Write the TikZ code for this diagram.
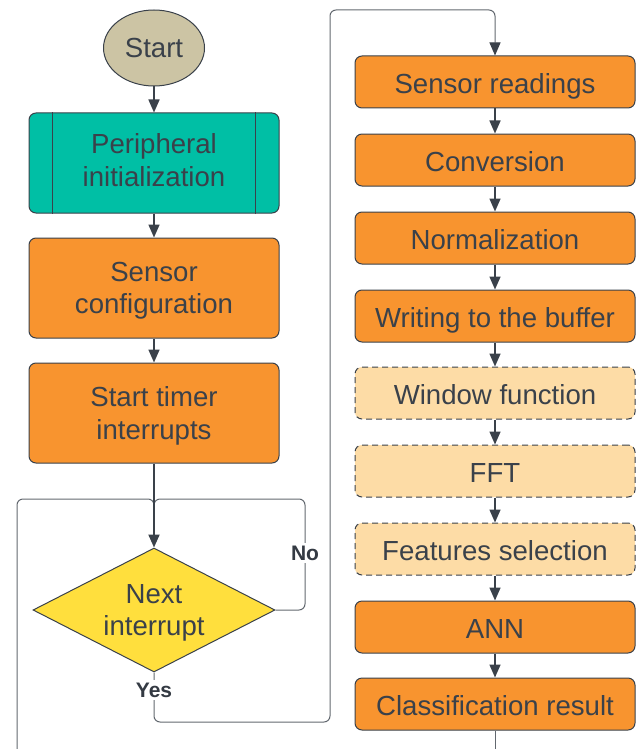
\documentclass[tikz,border=0pt]{standalone}
\usepackage{fontspec}
\setmainfont{Liberation Sans}
\usetikzlibrary{calc,arrows.meta,shapes.geometric}

\definecolor{ink}{HTML}{3A414A}
\definecolor{wire}{HTML}{62686F}
\definecolor{sand}{HTML}{CCC4A4}
\definecolor{teal}{HTML}{00BFA5}
\definecolor{tangerine}{HTML}{F8942F}
\definecolor{peach}{HTML}{FDDCA6}
\definecolor{lemon}{HTML}{FFDF3D}

\begin{document}
\begin{tikzpicture}[x=0.5pt, y=-0.5pt,
        every node/.style={text=ink, font=\fontsize{13.8}{16.2}\selectfont},
        box/.style={draw=ink, line width=0.5pt, rounded corners=3.5pt, align=center},
        leftbox/.style={box, minimum width=125pt, minimum height=50pt, text depth=0pt},
        rightbox/.style={box, fill=tangerine, minimum width=140pt, minimum height=26pt, inner sep=0pt,
            text height=11.1pt, text depth=0pt},
        optbox/.style={rightbox, fill=peach, dash pattern=on 3pt off 2pt},
        tip/.style={-{Triangle[length=6.5pt, width=5.5pt, color=ink]}},
        flow/.style={draw=ink, line width=0.8pt, tip},
        loopline/.style={draw=wire, line width=0.5pt, rounded corners=3pt},
        answer/.style={font=\bfseries\fontsize{10.5}{12}\selectfont, text=ink!90!black, fill=white, inner sep=1.5pt}]

        \useasboundingbox (0, 0) rectangle (637, 749);

        \coordinate (merge) at (154, 499);
        \coordinate (noturn) at (305, 499);
        \coordinate (yesturn) at (330, 722);
        \coordinate (topturn) at (330, 10);
        \coordinate (inbottom) at (17, 749);
        \coordinate (outbottom) at (495, 749);

        % left column
        \node[ellipse, draw=ink, line width=0.5pt, fill=sand, minimum width=50.5pt, minimum height=38pt, inner sep=0pt] (start) at (154, 48) {Start};
        \node[leftbox, fill=teal, text depth=3pt] (periph) at (154, 163) {Peripheral\\initialization};
        \node[leftbox, fill=tangerine] (sensconf) at (154, 288) {Sensor\\configuration};
        \node[leftbox, fill=tangerine] (timer) at (154, 413) {Start timer\\interrupts};
        \node[diamond, aspect=2, draw=ink, line width=0.5pt, fill=lemon, minimum width=121pt, minimum height=62pt, inner sep=0pt, align=center, text depth=0pt] (decision) at (154, 610) {Next\\interrupt};

        \draw[ink, line width=0.5pt] ($(periph.north west)+(24,0)$) -- ($(periph.south west)+(24,0)$);
        \draw[ink, line width=0.5pt] ($(periph.north east)+(-24,0)$) -- ($(periph.south east)+(-24,0)$);

        % right column
        \node[rightbox] (reading) at (495, 82) {Sensor readings};
        \node[rightbox] (conversion) at (495, 160) {Conversion};
        \node[rightbox] (normal) at (495, 238) {Normalization};
        \node[rightbox] (buffer) at (495, 316) {Writing to the buffer};
        \node[optbox] (window) at (495, 393) {Window function};
        \node[optbox] (fft) at (495, 471) {FFT};
        \node[optbox] (features) at (495, 549) {Features selection};
        \node[rightbox] (ann) at (495, 627) {ANN};
        \node[rightbox] (result) at (495, 704) {Classification result};

        % loops go below the main arrows
        \draw[loopline] (inbottom) |- (merge) -- ++(0, 12);
        \draw[loopline] (decision.east) -| (noturn) -- (merge) -- ++(0, 12);
        \draw[loopline, tip] (decision.south) |- (yesturn) -- (topturn) -| (reading.north);
        \draw[loopline] (result.south) -- (outbottom);

        \draw[flow] (start) -- (periph);
        \draw[flow] (periph) -- (sensconf);
        \draw[flow] (sensconf) -- (timer);
        \draw[flow, line width=1pt] (timer) -- (decision);

        \foreach \a/\b in {reading/conversion, conversion/normal, normal/buffer, buffer/window,
                window/fft, fft/features, features/ann, ann/result}
            \draw[flow] (\a) -- (\b);

        \node[answer] (no) at (305, 553) {No};
        \node[answer] (yes) at (154, 690) {Yes};

    \end{tikzpicture}
\end{document}
